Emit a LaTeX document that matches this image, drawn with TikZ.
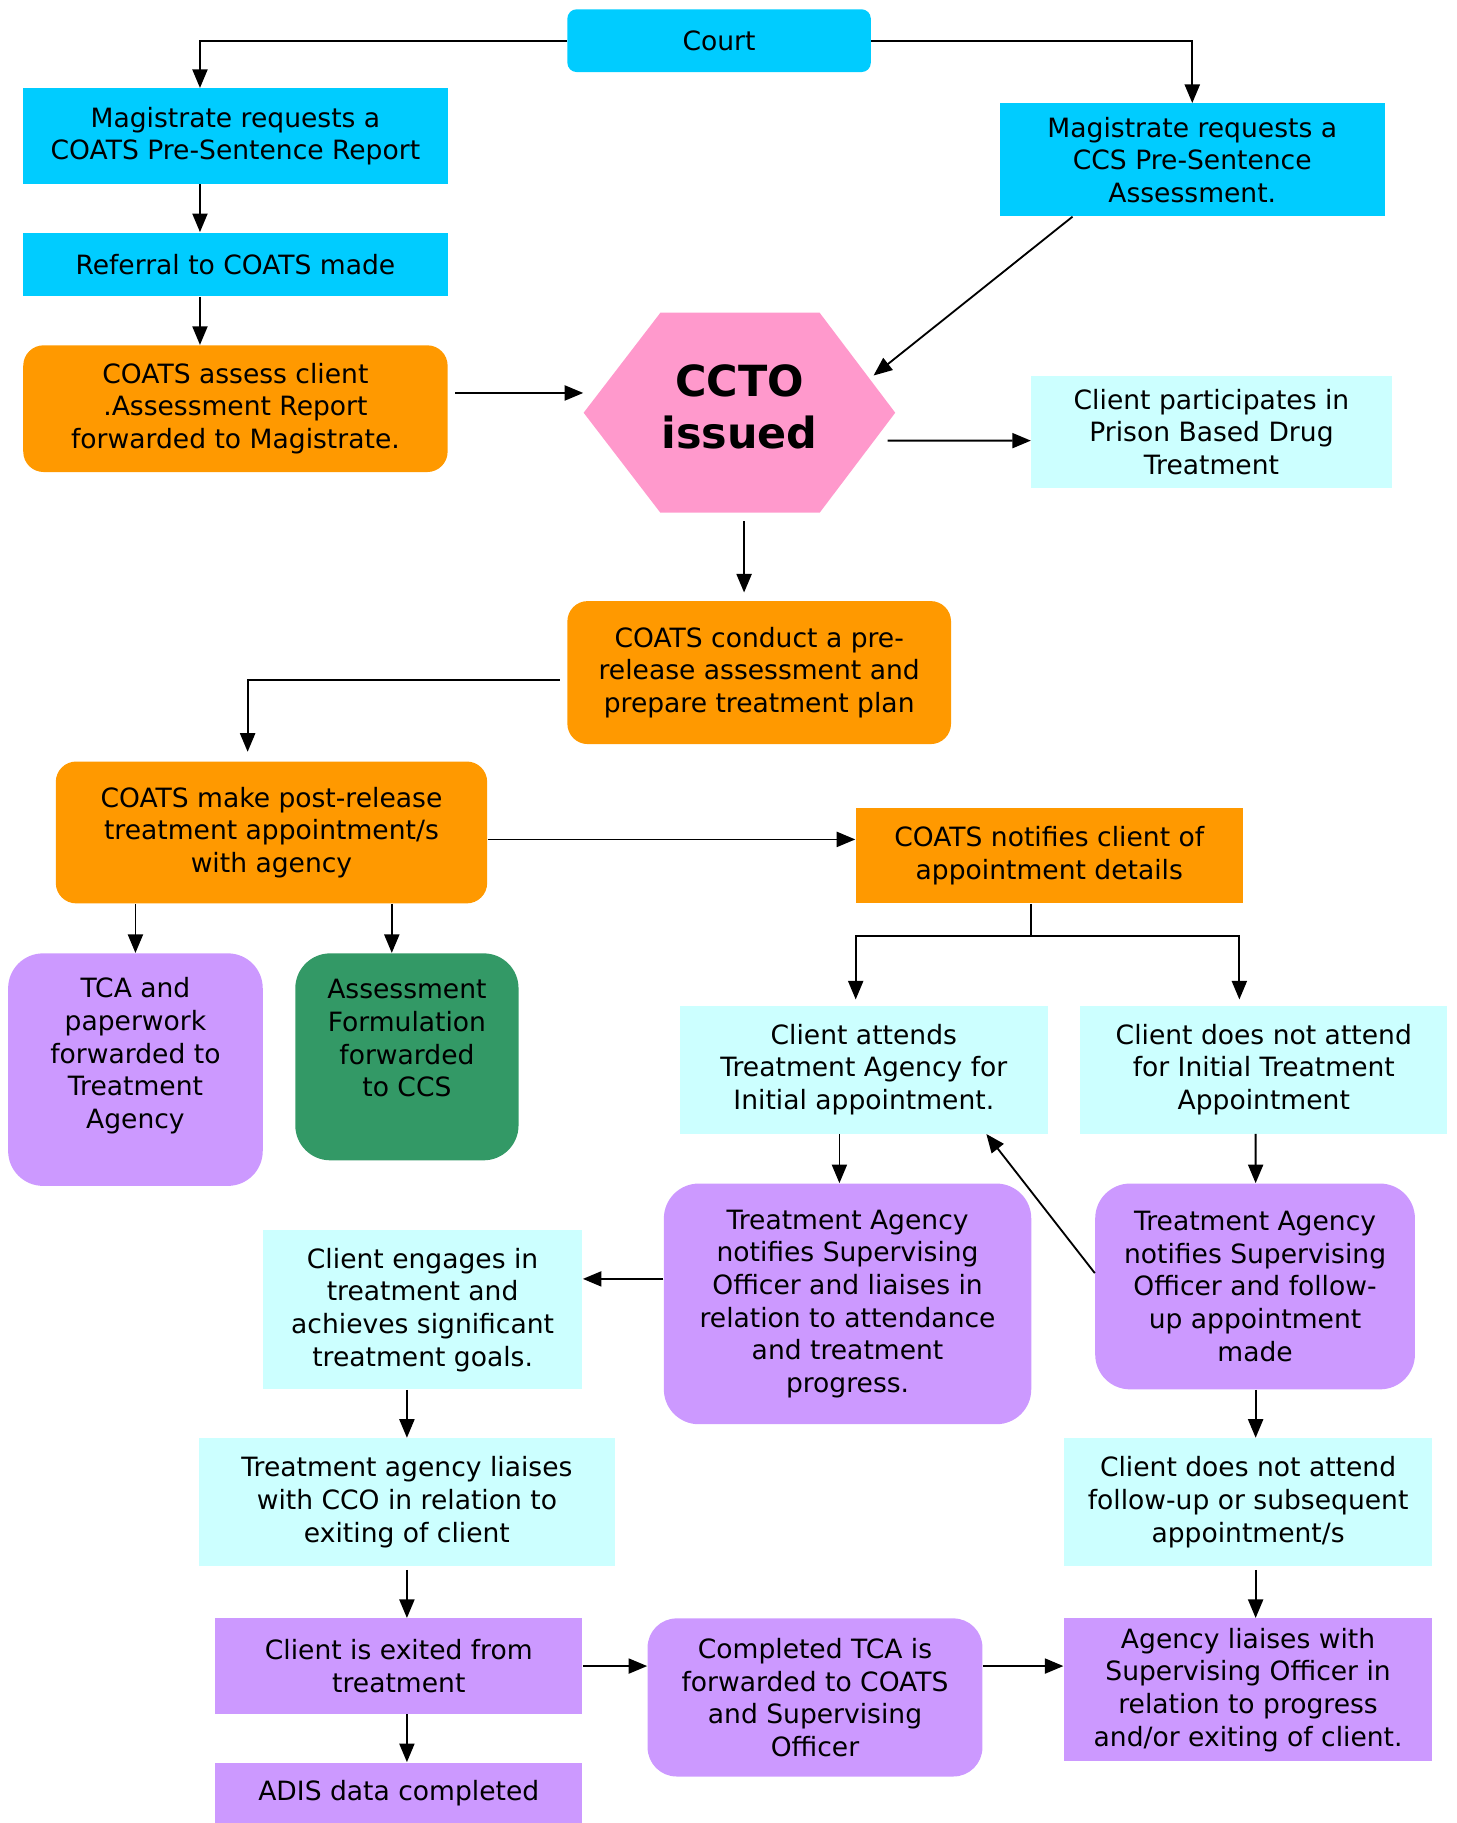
\documentclass[tikz,border=0pt]{standalone}
\usepackage{fontspec}
\setmainfont{DejaVu Sans}
\usetikzlibrary{arrows.meta,calc}
\definecolor{courtblue}{HTML}{00CCFF}
\definecolor{coatsorange}{HTML}{FF9900}
\definecolor{cctopink}{HTML}{FF99CC}
\definecolor{paleblue}{HTML}{CCFFFF}
\definecolor{agencypurple}{HTML}{CC99FF}
\definecolor{ccsgreen}{HTML}{339966}
\tikzset{
  flowbox/.style={align=center,inner sep=0pt,font=\fontsize{13}{16}\selectfont},
  bluebox/.style={flowbox,fill=courtblue},
  orangebox/.style={flowbox,fill=coatsorange,rounded corners=3.5mm},
  palebox/.style={flowbox,fill=paleblue},
  purplebox/.style={flowbox,fill=agencypurple},
  roundpurple/.style={purplebox,rounded corners=6mm},
  arr/.style={-{Triangle[length=3.2mm,width=2.6mm]},line width=0.9pt}
}
\begin{document}
\begin{tikzpicture}[x=0.2mm,y=-0.2mm]
	   \useasboundingbox (0,0) rectangle (1253,1568);
	   % sentencing
	   \node [bluebox,rounded corners=1.6mm,minimum width=52.2mm,minimum height=10.8mm] (court) at (618.5,35) {Court};
	   \node [bluebox,minimum width=73mm,minimum height=16.4mm] (magcoats) at (202.5,117) {Magistrate requests a\\COATS Pre-Sentence Report};
	   \node [bluebox,minimum width=73mm,minimum height=11mm] (referral) at (202.5,227.5) {Referral to COATS made};
	   \node [orangebox,minimum width=73mm,minimum height=21.8mm] (assess) at (202.5,351.5) {COATS assess client\\.Assessment Report\\forwarded to Magistrate.};
	   \node [bluebox,minimum width=66.2mm,minimum height=19.4mm] (magccs) at (1025.5,137.5) {Magistrate requests a\\CCS Pre-Sentence\\Assessment.};
	   \fill [cctopink] (568,269) -- (705,269) -- (770,355) -- (705,441) -- (568,441) -- (502,355) -- cycle;
	   \node [inner sep=0pt,minimum width=53.6mm,minimum height=34.4mm,
	          label={[align=center,yshift=1mm,font=\fontsize{21}{25.5}\selectfont\bfseries]center:{CCTO\\issued}}] (ccto) at (636,355) {};
	   \node [palebox,minimum width=62mm,minimum height=19.4mm] (participates) at (1042,371.5) {Client participates in\\Prison Based Drug\\Treatment};
	   % release
	   \node [orangebox,minimum width=66mm,minimum height=24.6mm] (conduct) at (653,578.5) {COATS conduct a pre-\\release assessment and\\prepare treatment plan};
	   \node [orangebox,minimum width=74.2mm,minimum height=24.4mm] (postrel) at (233.5,716) {COATS make post-release\\treatment appointment/s\\with agency};
	   \node [flowbox,fill=coatsorange,minimum width=66.6mm,minimum height=16.4mm] (notifies) at (902.5,736) {COATS notifies client of\\appointment details};
	   \node [roundpurple,minimum width=43.8mm,minimum height=40mm,
	          label={[flowbox,yshift=2.4mm]center:{TCA and\\paperwork\\forwarded to\\Treatment\\Agency}}] (tca) at (116.5,920) {};
	   \node [flowbox,fill=ccsgreen,rounded corners=6mm,minimum width=38.4mm,minimum height=35.6mm,
	          label={[flowbox,yshift=3.2mm]center:{Assessment\\Formulation\\forwarded\\to CCS}}] (asmt) at (350,909) {};
	   \node [palebox,minimum width=63.2mm,minimum height=22mm] (attends) at (743,920) {Client attends\\Treatment Agency for\\Initial appointment.};
	   \node [palebox,minimum width=63.2mm,minimum height=22mm] (noattend) at (1087,920) {Client does not attend\\for Initial Treatment\\Appointment};
	   % treatment
	   \node [roundpurple,minimum width=63.2mm,minimum height=41.4mm] (tanotify) at (729,1121.5) {Treatment Agency\\notifies Supervising\\Officer and liaises in\\relation to attendance\\and treatment\\progress.};
	   \node [roundpurple,minimum width=55mm,minimum height=35.4mm] (tafollow) at (1079.5,1106.5) {Treatment Agency\\notifies Supervising\\Officer and follow-\\up appointment\\made};
	   \node [palebox,minimum width=55mm,minimum height=27.4mm] (engages) at (363.5,1126.5) {Client engages in\\treatment and\\achieves significant\\treatment goals.};
	   \node [palebox,minimum width=71.6mm,minimum height=22mm] (cco) at (350,1292) {Treatment agency liaises\\with CCO in relation to\\exiting of client};
	   \node [palebox,minimum width=63.4mm,minimum height=22mm] (nofollow) at (1073.5,1292) {Client does not attend\\follow-up or subsequent\\appointment/s};
	   \node [purplebox,minimum width=63.2mm,minimum height=16.4mm] (exited) at (343,1433) {Client is exited from\\treatment};
	   \node [roundpurple,rounded corners=5mm,minimum width=57.6mm,minimum height=27.2mm] (completed) at (701,1460) {Completed TCA is\\forwarded to COATS\\and Supervising\\Officer};
	   \node [purplebox,minimum width=63.4mm,minimum height=24.6mm] (agency) at (1073.5,1453.5) {Agency liaises with\\Supervising Officer in\\relation to progress\\and/or exiting of client.};
	   \node [purplebox,minimum width=63.2mm,minimum height=10.4mm] (adis) at (343,1542) {ADIS data completed};
	   % connectors
	   \draw[arr] (court.west) -| ($(magcoats.north)+(-30.5,0)$);
	   \draw[arr] (court.east) -| (magccs.north);
	   \draw[arr] ($(magcoats.south)+(-30.5,0)$) -- ($(referral.north)+(-30.5,0)$);
	   \draw[arr] ($(referral.south)+(-30.5,0)$) -- ($(assess.north)+(-30.5,0)$);
	   \draw[arr] ($(assess.east)+(6,-13.5)$) -- ($(ccto.west)+(0,-17)$);
	   \draw[arr] ($(magccs.south)+(-103,0)$) -- ($(ccto.east)+(-19,-32)$);
	   \draw[arr] ($(ccto.east)+(-7,24)$) -- ($(participates.west)+(0,7.5)$);
	   \draw[arr] ($(ccto.south)+(4,7)$) -- ($(conduct.north)+(-13,-7)$);
	   \draw[arr] ($(conduct.west)+(-6,6.5)$) -| ($(postrel.north)+(-20.5,-8)$);
	   \draw[arr] ($(postrel.east)+(0,6)$) -- ($(notifies.west)+(0,-14)$);
	   \draw[arr] (tca.north |- postrel.south) -- (tca.north);
	   \draw[arr] ($(asmt.north |- postrel.south)+(-13,0)$) -- ($(asmt.north)+(-13,0)$);
	   \draw[line width=0.9pt] ($(notifies.south)+(-15.5,0)$) -- ++(0,28) coordinate (split);
	   \draw[arr] (split) -| ($(attends.north)+(-7,-5)$);
	   \draw[arr] (split) -| ($(noattend.north)+(-21,-5)$);
	   \draw[arr] ($(attends.south)+(-21,0)$) -- ($(tanotify.north)+(-7,0)$);
	   \draw[arr] ($(noattend.south)+(-7,0)$) -- ($(tafollow.north)+(0.5,0)$);
	   \draw[arr] ($(tafollow.west)+(0,-11.5)$) -- ($(attends.south east)+(-53,0)$);
	   \draw[arr] ($(tanotify.west)+(0,-21.5)$) -- ($(engages.east)+(0,-26.5)$);
	   \draw[arr] ($(engages.south)+(-13.5,0)$) -- (cco.north);
	   \draw[arr] ($(cco.south)+(0,3)$) -- ($(exited.north)+(7,0)$);
	   \draw[arr] ($(exited.south)+(7,0)$) -- ($(adis.north)+(7,0)$);
	   \draw[arr] (exited.east) -- (completed.west |- exited.east);
	   \draw[arr] ($(completed.east)+(0,-27)$) -- ($(agency.west)+(0,-20.5)$);
	   \draw[arr] ($(tafollow.south)+(0.5,0)$) -- ($(nofollow.north)+(6.5,0)$);
	   \draw[arr] ($(nofollow.south)+(6.5,3)$) -- ($(agency.north)+(6.5,0)$);
	\end{tikzpicture}
\end{document}
